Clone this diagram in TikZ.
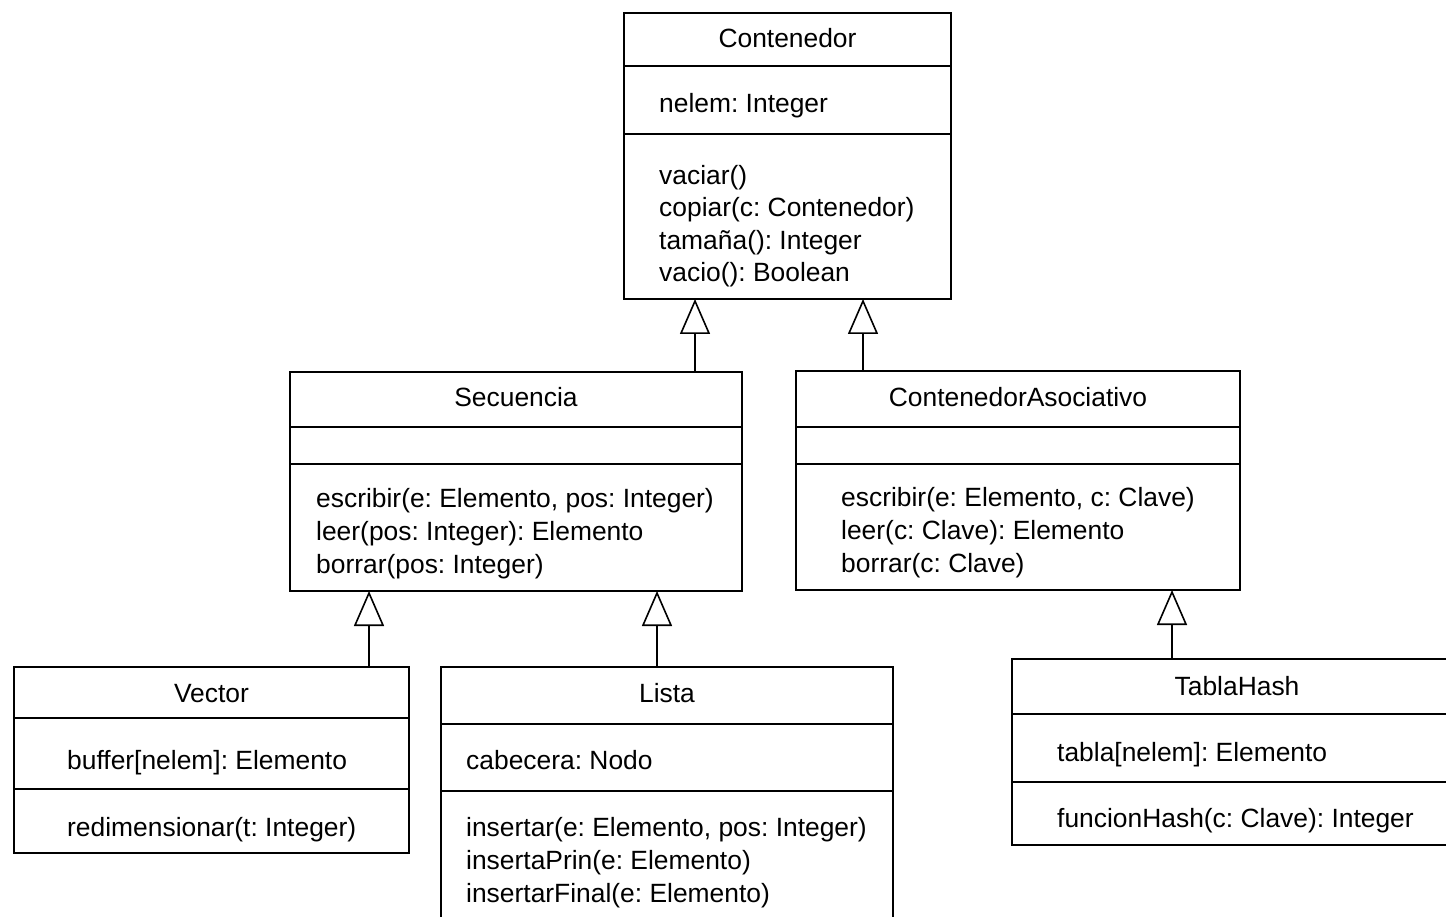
\documentclass[tikz,border=0pt]{standalone}
\usepackage{fontspec}
\setmainfont{Liberation Sans}
\usetikzlibrary{arrows.meta}
\tikzset{
  classbox/.style={draw, line width=1.6pt, rectangle, inner sep=0pt, outer sep=0pt},
  sepline/.style={line width=1.6pt},
  txt/.style={inner sep=0pt, anchor=base west, font=\fontsize{26.4pt}{33pt}\selectfont\frenchspacing},
  ttl/.style={inner sep=0pt, anchor=base, font=\fontsize{26.4pt}{33pt}\selectfont\frenchspacing},
  inh/.style={line width=1.6pt, -{Triangle[open, width=30pt, length=35pt, line width=1.6pt]}}
}
\begin{document}
\begin{tikzpicture}[x=1pt, y=-1pt]
\useasboundingbox (0,0) rectangle (1446,917);
% Contenedor
\node[classbox, minimum width=327pt, minimum height=286pt] (cont) at (787.5,156) {};
\draw[sepline] (cont.west |- 0,66) -- (cont.east |- 0,66);
\draw[sepline] (cont.west |- 0,134) -- (cont.east |- 0,134);
\node[ttl] (contT) at (787.5,48) {Contenedor};
\node[txt] (contA) at (659,113) {nelem: Integer};
\node[txt] (contM1) at (659,185) {vaciar()};
\node[txt] (contM2) at (659,217) {copiar(c: Contenedor)};
\node[txt] (contM3) at (659,250) {tamaña(): Integer};
\node[txt] (contM4) at (659,282) {vacio(): Boolean};
% Secuencia
\node[classbox, minimum width=452pt, minimum height=219pt] (sec) at (516,481.5) {};
\draw[sepline] (sec.west |- 0,427) -- (sec.east |- 0,427);
\draw[sepline] (sec.west |- 0,464) -- (sec.east |- 0,464);
\node[ttl] (secT) at (516,406) {Secuencia};
\node[txt] (secM1) at (316,507) {escribir(e: Elemento, pos: Integer)};
\node[txt] (secM2) at (316,540) {leer(pos: Integer): Elemento};
\node[txt] (secM3) at (316,573) {borrar(pos: Integer)};
% ContenedorAsociativo
\node[classbox, minimum width=444pt, minimum height=219pt] (asoc) at (1018,480.5) {};
\draw[sepline] (asoc.west |- 0,427) -- (asoc.east |- 0,427);
\draw[sepline] (asoc.west |- 0,464) -- (asoc.east |- 0,464);
\node[ttl] (asocT) at (1018,406) {ContenedorAsociativo};
\node[txt] (asocM1) at (841,506) {escribir(e: Elemento, c: Clave)};
\node[txt] (asocM2) at (841,539) {leer(c: Clave): Elemento};
\node[txt] (asocM3) at (841,572) {borrar(c: Clave)};
% Vector
\node[classbox, minimum width=395pt, minimum height=186pt] (vec) at (211.5,760) {};
\draw[sepline] (vec.west |- 0,718) -- (vec.east |- 0,718);
\draw[sepline] (vec.west |- 0,789) -- (vec.east |- 0,789);
\node[ttl] (vecT) at (211.5,702) {Vector};
\node[txt] (vecA) at (67,769) {buffer[nelem]: Elemento};
\node[txt] (vecM) at (67,836) {redimensionar(t: Integer)};
% Lista
\node[classbox, minimum width=452pt, minimum height=270pt] (lis) at (667,802) {};
\draw[sepline] (lis.west |- 0,724) -- (lis.east |- 0,724);
\draw[sepline] (lis.west |- 0,791) -- (lis.east |- 0,791);
\node[ttl] (lisT) at (667,702) {Lista};
\node[txt] (lisA) at (466,769) {cabecera: Nodo};
\node[txt] (lisM1) at (466,836) {insertar(e: Elemento, pos: Integer)};
\node[txt] (lisM2) at (466,869) {insertaPrin(e: Elemento)};
\node[txt] (lisM3) at (466,902) {insertarFinal(e: Elemento)};
% TablaHash
\node[classbox, minimum width=450pt, minimum height=186pt] (tab) at (1237,752) {};
\draw[sepline] (tab.west |- 0,714) -- (tab.east |- 0,714);
\draw[sepline] (tab.west |- 0,782) -- (tab.east |- 0,782);
\node[ttl] (tabT) at (1237,695) {TablaHash};
\node[txt] (tabA) at (1057,761) {tabla[nelem]: Elemento};
\node[txt] (tabM) at (1057,827) {funcionHash(c: Clave): Integer};
% connectors
\coordinate (x1) at (695,0);
\coordinate (x2) at (863,0);
\coordinate (x3) at (369,0);
\coordinate (x4) at (657,0);
\coordinate (x5) at (1172,0);
\draw[inh] (sec.north -| x1) -- (cont.south -| x1);
\draw[inh] (asoc.north -| x2) -- (cont.south -| x2);
\draw[inh] (vec.north -| x3) -- (sec.south -| x3);
\draw[inh] (lis.north -| x4) -- (sec.south -| x4);
\draw[inh] (tab.north -| x5) -- (asoc.south -| x5);
\end{tikzpicture}
\end{document}
